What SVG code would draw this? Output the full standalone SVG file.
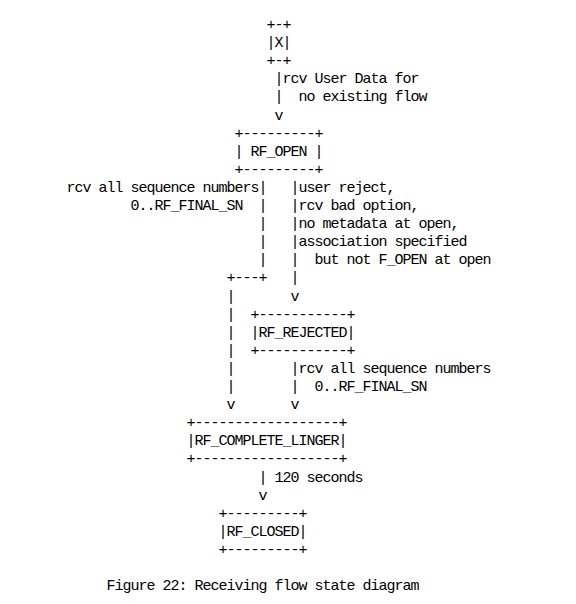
<svg xmlns="http://www.w3.org/2000/svg" width="576" height="604" viewBox="0 0 576 604">
<style>
text { font-family: "Liberation Mono", "DejaVu Sans Mono", monospace; font-size: 15px; letter-spacing: -1px; fill: #000; white-space: pre; }
</style>
<rect width="576" height="604" fill="#fff"/>
<g id="node-X">
<text x="266.5" y="29" xml:space="preserve">+-+</text>
<text x="266.5" y="47.1" xml:space="preserve">|X|</text>
<text x="266.5" y="65.2" xml:space="preserve">+-+</text>
</g>
<g id="node-RF_OPEN">
<text x="234.5" y="137.6" xml:space="preserve">+---------+</text>
<text x="234.5" y="155.7" xml:space="preserve">| RF_OPEN |</text>
<text x="234.5" y="173.8" xml:space="preserve">+---------+</text>
</g>
<g id="node-RF_REJECTED">
<text x="250.5" y="318.6" xml:space="preserve">+-----------+</text>
<text x="250.5" y="336.7" xml:space="preserve">|RF_REJECTED|</text>
<text x="250.5" y="354.8" xml:space="preserve">+-----------+</text>
</g>
<g id="node-RF_COMPLETE_LINGER">
<text x="186.5" y="427.2" xml:space="preserve">+------------------+</text>
<text x="186.5" y="445.3" xml:space="preserve">|RF_COMPLETE_LINGER|</text>
<text x="186.5" y="463.4" xml:space="preserve">+------------------+</text>
</g>
<g id="node-RF_CLOSED">
<text x="218.5" y="517.7" xml:space="preserve">+---------+</text>
<text x="218.5" y="535.8" xml:space="preserve">|RF_CLOSED|</text>
<text x="218.5" y="553.9" xml:space="preserve">+---------+</text>
</g>
<g id="connectors">
<text x="274.5" y="83.3" xml:space="preserve">|rcv User Data for</text>
<text x="274.5" y="101.4" xml:space="preserve">|  no existing flow</text>
<text x="274.5" y="119.5" xml:space="preserve">v</text>
<text x="66.5" y="191.9" xml:space="preserve">rcv all sequence numbers|   |user reject,</text>
<text x="130.5" y="210" xml:space="preserve">0..RF_FINAL_SN  |   |rcv bad option,</text>
<text x="258.5" y="228.1" xml:space="preserve">|   |no metadata at open,</text>
<text x="258.5" y="246.2" xml:space="preserve">|   |association specified</text>
<text x="258.5" y="264.3" xml:space="preserve">|   |  but not F_OPEN at open</text>
<text x="226.5" y="282.4" xml:space="preserve">+---+   |</text>
<text x="226.5" y="300.5" xml:space="preserve">|       v</text>
<text x="226.5" y="318.6" xml:space="preserve">|</text>
<text x="226.5" y="336.7" xml:space="preserve">|</text>
<text x="226.5" y="354.8" xml:space="preserve">|</text>
<text x="226.5" y="372.9" xml:space="preserve">|       |rcv all sequence numbers</text>
<text x="226.5" y="391" xml:space="preserve">|       |  0..RF_FINAL_SN</text>
<text x="226.5" y="409.1" xml:space="preserve">v       v</text>
<text x="258.5" y="481.5" xml:space="preserve">| 120 seconds</text>
<text x="258.5" y="499.6" xml:space="preserve">v</text>
</g>
<g id="caption">
<text x="106.5" y="590.1" xml:space="preserve">Figure 22: Receiving flow state diagram</text>
</g>
</svg>
